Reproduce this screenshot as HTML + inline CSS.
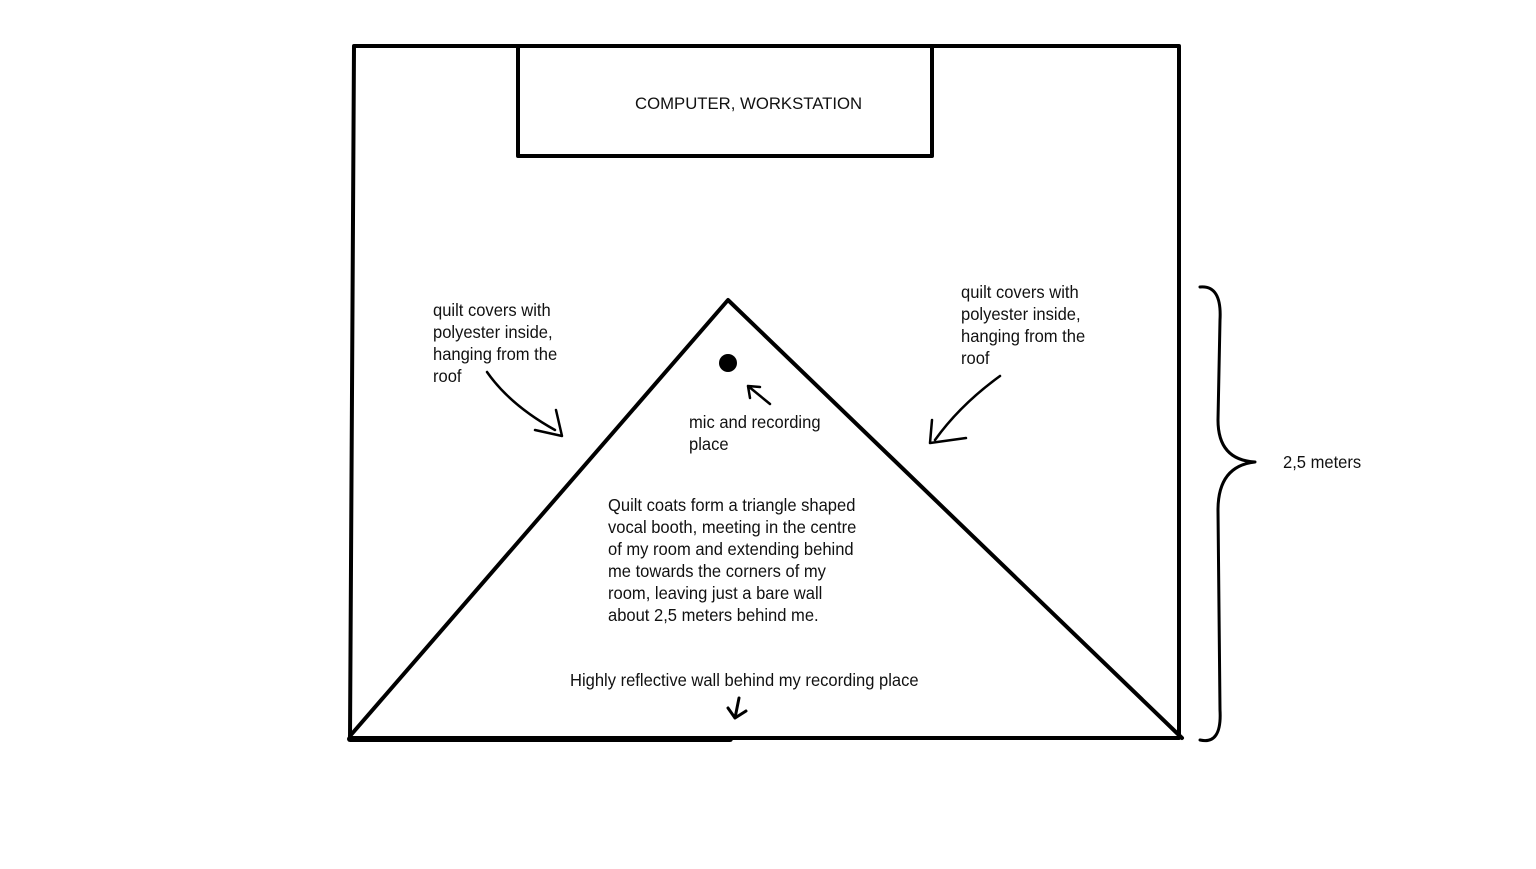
<!DOCTYPE html>
<html><head><meta charset="utf-8"><style>
html,body{margin:0;padding:0;background:#fff;}
svg text{font-family:"Liberation Sans Narrow","Liberation Sans",sans-serif;fill:#111;}
</style></head><body>
<svg width="1536" height="864" viewBox="0 0 1536 864" xmlns="http://www.w3.org/2000/svg">
<rect width="1536" height="864" fill="#fff"/>
<g fill="none" stroke="#000" stroke-linecap="round" stroke-linejoin="round">
<path d="M354 46 L1179 46 L1179 738 L350 738 Z" stroke-width="4"/>
<rect x="518" y="46" width="414" height="110" stroke-width="4"/>
<path d="M350 736 L728 300 L1182 738" stroke-width="4"/>
<line x1="350" y1="739" x2="730" y2="739" stroke-width="6"/>
<path d="M1200 287 Q1222 285 1220 320 L1218 420 Q1218 460 1255 462 Q1218 466 1218 510 L1220 710 Q1222 745 1200 740" stroke-width="3"/>
<path d="M487 372 Q510 405 555 430" stroke-width="2.5"/>
<path d="M535 430 L562 436 L556 410" stroke-width="2.5"/>
<path d="M1000 376 Q960 405 935 440" stroke-width="2.5"/>
<path d="M932 420 L930 443 L966 438" stroke-width="2.5"/>
<path d="M770 404 L748 386 M748 386 L750 398 M748 386 L760 387" stroke-width="2.5"/>
<path d="M739 698 L735 718 M728 708 L735 718 L746 711" stroke-width="3"/>
</g>
<circle cx="728" cy="363" r="9" fill="#000"/>
<g font-size="18">
<text transform="translate(635,109) scale(0.985,1)" font-size="17">COMPUTER, WORKSTATION</text>
<text transform="translate(433,316) scale(0.92,1)">quilt covers with</text>
<text transform="translate(433,338) scale(0.92,1)">polyester inside,</text>
<text transform="translate(433,360) scale(0.92,1)">hanging from the</text>
<text transform="translate(433,382) scale(0.92,1)">roof</text>
<text transform="translate(961,298) scale(0.92,1)">quilt covers with</text>
<text transform="translate(961,320) scale(0.92,1)">polyester inside,</text>
<text transform="translate(961,342) scale(0.92,1)">hanging from the</text>
<text transform="translate(961,364) scale(0.92,1)">roof</text>
<text transform="translate(689,428) scale(0.92,1)">mic and recording</text>
<text transform="translate(689,450) scale(0.92,1)">place</text>
<text transform="translate(608,511) scale(0.92,1)">Quilt coats form a triangle shaped</text>
<text transform="translate(608,533) scale(0.92,1)">vocal booth, meeting in the centre</text>
<text transform="translate(608,555) scale(0.92,1)">of my room and extending behind</text>
<text transform="translate(608,577) scale(0.92,1)">me towards the corners of my</text>
<text transform="translate(608,599) scale(0.92,1)">room, leaving just a bare wall</text>
<text transform="translate(608,621) scale(0.92,1)">about 2,5 meters behind me.</text>
<text transform="translate(570,686) scale(0.92,1)">Highly reflective wall behind my recording place</text>
<text transform="translate(1283,468) scale(0.92,1)">2,5 meters</text>
</g>
</svg>
</body></html>
